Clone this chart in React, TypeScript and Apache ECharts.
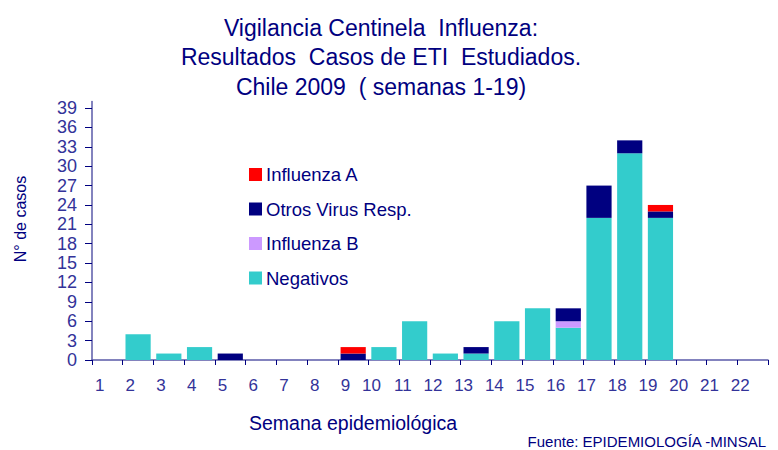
import React, { useEffect, useRef } from "react";
import * as echarts from "echarts";

const weeks = ["1","2","3","4","5","6","7","8","9","10","11","12","13","14","15","16","17","18","19","20","21","22"];
const negativos = [0,4,1,2,0,0,0,0,0,2,6,1,1,6,8,5,22,32,22,0,0,0];
const influenzaB = [0,0,0,0,0,0,0,0,0,0,0,0,0,0,0,1,0,0,0,0,0,0];
const otrosVirus = [0,0,0,0,1,0,0,0,1,0,0,0,1,0,0,2,5,2,1,0,0,0];
const influenzaA = [0,0,0,0,0,0,0,0,1,0,0,0,0,0,0,0,0,0,1,0,0,0];
const yTicks = [0,3,6,9,12,15,18,21,24,27,30,33,36,39];

const FONT = "'Liberation Sans', Arial, sans-serif";
const AXIS_COLOR = "#5a5aa8";
const LABEL_COLOR = "#333399";
const NAVY = "#000080";

export default function App() {
  const ref = useRef<HTMLDivElement>(null);
  useEffect(() => {
    if (!ref.current) return;
    const chart = echarts.init(ref.current, null, { renderer: "svg" });
    const mk = (name: string, data: number[], color: string) => ({
      name,
      type: "bar",
      stack: "total",
      data,
      barCategoryGap: "18%",
      itemStyle: { color },
      emphasis: { disabled: true },
    });
    chart.setOption({
      animation: false,
      backgroundColor: "#ffffff",
      title: {
        text: "Vigilancia Centinela  Influenza:\nResultados  Casos de ETI  Estudiados.\nChile 2009  ( semanas 1-19)",
        left: 376,
        textAlign: "center",
        top: 8,
        textStyle: {
          fontFamily: FONT,
          fontSize: 23,
          fontWeight: "normal",
          color: NAVY,
          lineHeight: 29.5,
        },
      },
      legend: {
        orient: "vertical",
        left: 244,
        top: 160,
        itemWidth: 13,
        itemHeight: 13,
        itemGap: 15.5,
        icon: "rect",
        selectedMode: false,
        data: ["Influenza A", "Otros Virus Resp.", "Influenza B", "Negativos"],
        textStyle: { fontFamily: FONT, fontSize: 18.5, color: NAVY, padding: [0, 0, 0, -1] },
      },
      grid: { left: 92, right: 10, top: 101.6, bottom: 90, containLabel: false },
      xAxis: {
        type: "category",
        data: weeks,
        boundaryGap: true,
        axisLine: { lineStyle: { color: AXIS_COLOR, width: 1.5 } },
        axisTick: { show: true, length: 5, lineStyle: { color: NAVY } },
        axisLabel: {
          fontFamily: FONT,
          fontSize: 17,
          color: LABEL_COLOR,
          margin: 17,
          align: "right",
          padding: [0, 3, 0, 0],
        },
      },
      yAxis: {
        type: "value",
        min: 0,
        max: 40,
        interval: 1,
        splitLine: { show: false },
        axisLine: { show: true, lineStyle: { color: AXIS_COLOR, width: 1.5 } },
        axisTick: { show: true, length: 7, customValues: yTicks, lineStyle: { color: NAVY } },
        axisLabel: {
          fontFamily: FONT,
          fontSize: 18,
          color: LABEL_COLOR,
          margin: 15,
          customValues: yTicks,
        },
      },
      graphic: [
        {
          type: "text",
          x: 20,
          y: 219,
          rotation: Math.PI / 2,
          style: {
            text: "N° de casos",
            fontFamily: FONT,
            fontSize: 16,
            fill: NAVY,
            align: "center",
            verticalAlign: "middle",
          },
        },
        {
          type: "text",
          x: 353,
          y: 423,
          style: {
            text: "Semana epidemiológica",
            fontFamily: FONT,
            fontSize: 19.5,
            fill: NAVY,
            align: "center",
            verticalAlign: "middle",
          },
        },
        {
          type: "text",
          x: 766,
          y: 441,
          style: {
            text: "Fuente: EPIDEMIOLOGÍA -MINSAL",
            fontFamily: "'Liberation Sans Narrow', 'Liberation Sans', Arial, sans-serif",
            fontSize: 15,
            fill: NAVY,
            align: "right",
            verticalAlign: "middle",
          },
        },
      ],
      series: [
        mk("Negativos", negativos, "#33CCCC"),
        mk("Influenza B", influenzaB, "#CC99FF"),
        mk("Otros Virus Resp.", otrosVirus, "#000080"),
        mk("Influenza A", influenzaA, "#FF0000"),
      ],
    });
    return () => chart.dispose();
  }, []);
  return <div ref={ref} style={{ width: 778, height: 450, position: "absolute", left: 0, top: 0 }} />;
}
